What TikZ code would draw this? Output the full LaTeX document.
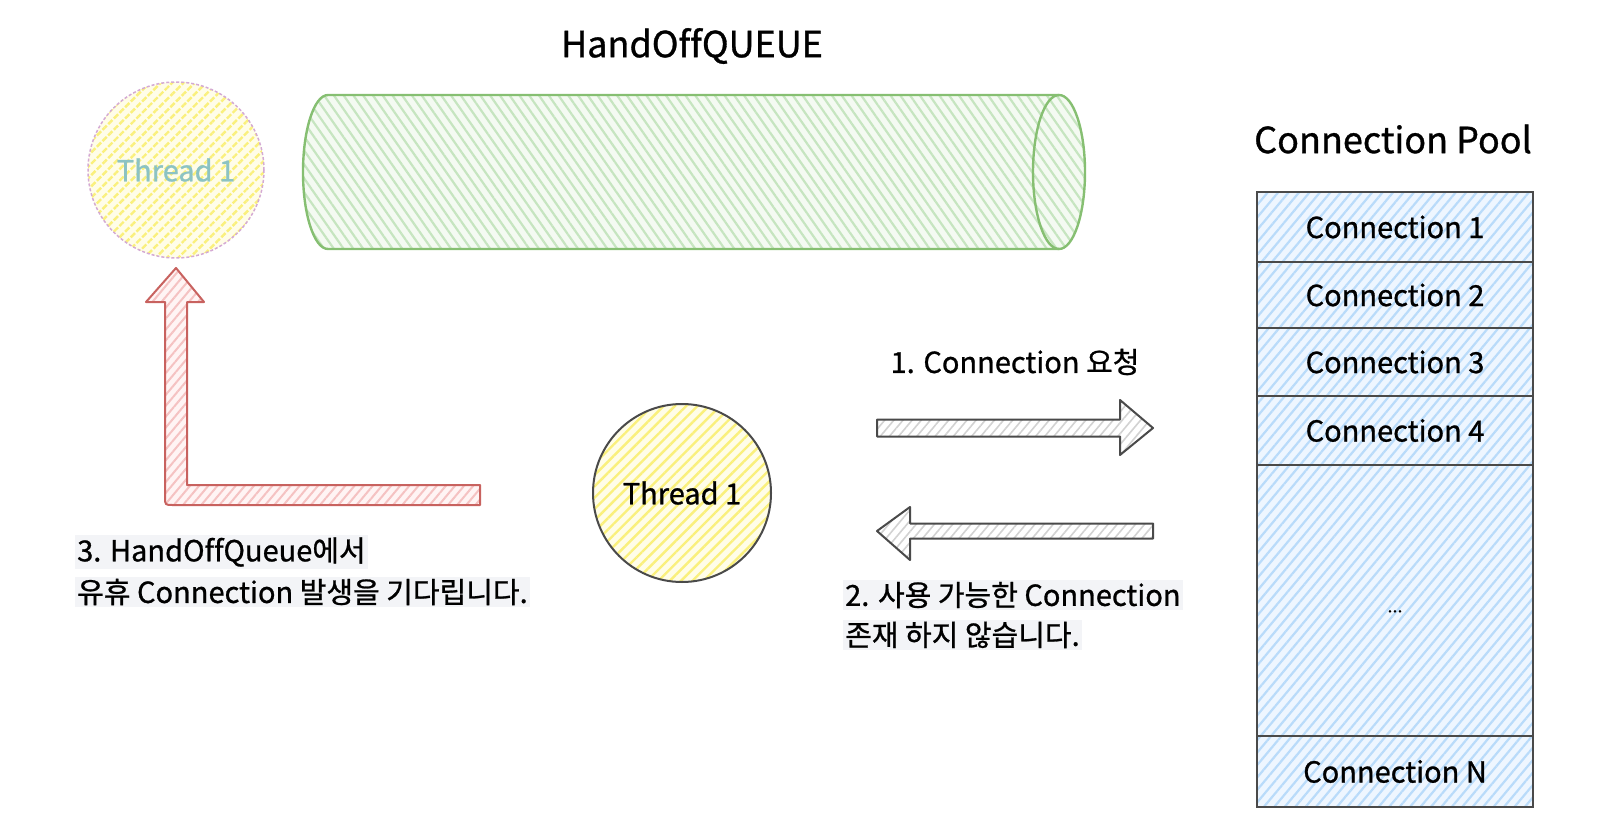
\documentclass[tikz,border=0pt]{standalone}
\usepackage{fontspec}
\setmainfont{Noto Sans CJK KR}[FakeBold=0.9, Ligatures=CommonOff]
\usetikzlibrary{patterns.meta,calc}
\definecolor{yline}{HTML}{FAF07C}
\definecolor{ybg}{HTML}{FFFDE8}
\definecolor{gline}{HTML}{C6E5C0}
\definecolor{gbg}{HTML}{F4FAF2}
\definecolor{gedge}{HTML}{86BF72}
\definecolor{bline}{HTML}{B9DBFA}
\definecolor{bbg}{HTML}{EEF6FF}
\definecolor{edge}{HTML}{4A4A4A}
\definecolor{rline}{HTML}{F5C2C2}
\definecolor{rbg}{HTML}{FFF4F4}
\definecolor{redge}{HTML}{C8625F}
\definecolor{pedge}{HTML}{D4AAD4}
\definecolor{tealtext}{HTML}{8CC3C3}
\definecolor{glines}{HTML}{D2D2D2}
\definecolor{lbl}{HTML}{F3F4F7}
\begin{document}
\begin{tikzpicture}[x=1pt,y=-1pt,
  txt/.style={font=\fontsize{29}{34}\selectfont, text=black},
  ttl/.style={font=\fontsize{36}{42}\selectfont, text=black},
  yhatch/.style={preaction={fill=ybg}, pattern={Lines[angle=45,distance=8pt,line width=2.4pt]}, pattern color=yline},
  ghatch/.style={preaction={fill=gbg}, pattern={Lines[angle=-55,distance=8pt,line width=2.2pt]}, pattern color=gline},
  bhatch/.style={preaction={fill=bbg}, pattern={Lines[angle=50,distance=8pt,line width=2.2pt]}, pattern color=bline},
  rhatch/.style={preaction={fill=rbg}, pattern={Lines[angle=50,distance=7pt,line width=2pt]}, pattern color=rline},
  khatch/.style={preaction={fill=white}, pattern={Lines[angle=50,distance=7pt,line width=1.6pt]}, pattern color=glines},
  row/.style={draw=edge, line width=2.5pt, bhatch, minimum width=276pt, inner sep=0pt, txt},
  thread/.style={circle, inner sep=0pt, yhatch, txt},
  lab/.style={txt, fill=lbl, inner sep=2pt, anchor=west},
  blockarrow/.style={draw=edge, line width=2pt, line join=round, khatch},
]
\useasboundingbox (0,0) rectangle (1598,832);

% titles
\node[ttl] (qtitle) at (692,46) {HandOffQUEUE};
\node[ttl] (ptitle) at (1393,139) {Connection Pool};

% cylinder (queue)
\coordinate (qL) at (328,172);
\coordinate (qR) at (1059,172);
\path[ghatch] (328,95) -- (1059,95) arc[x radius=26, y radius=77, start angle=-90, end angle=90] -- (328,249)
  arc[x radius=25, y radius=77, start angle=90, end angle=270] -- cycle;
\draw[gedge, line width=2.4pt, line join=round] (328,95) -- (1059,95)
  (328,249) -- (1059,249)
  (328,95) arc[x radius=25, y radius=77, start angle=-90, end angle=-270];
\draw[gedge, line width=2.4pt] (qR) ellipse[x radius=26, y radius=77];

% faded thread
\node[thread, minimum size=176pt, draw=pedge, line width=1.5pt, dash pattern=on 3pt off 2pt, text=tealtext] (t0) at (176,170) {Thread 1};

% active thread
\node[thread, minimum size=178pt, draw=edge, line width=2pt] (t1) at (682,493) {Thread 1};

% connection pool
\node[row, minimum height=70pt] (c1) at (1395,227) {Connection 1};
\node[row, minimum height=66pt] (c2) at (1395,295) {Connection 2};
\node[row, minimum height=68pt] (c3) at (1395,362) {Connection 3};
\node[row, minimum height=69pt] (c4) at (1395,430.5) {Connection 4};
\node[row, minimum height=271pt, font=\fontsize{18}{20}\selectfont] (cd) at (1395,600.5) {\raisebox{-24pt}{...}};
\node[row, minimum height=71pt] (cn) at (1395,771.5) {Connection N};

% arrow 1 (request)
\coordinate (a1s) at (877,428);
\coordinate (a1e) at (1153,428);
\draw[blockarrow] ($(a1s)+(0,-8.5)$) -- ($(a1e)+(-33,-8.5)$) -- ($(a1e)+(-33,-28)$) -- (a1e)
  -- ($(a1e)+(-33,27)$) -- ($(a1e)+(-33,8.5)$) -- ($(a1s)+(0,8.5)$) -- cycle;
\node[txt] (l1) at (1015,362) {1. Connection 요청};

% arrow 2 (reply)
\coordinate (a2s) at (1153,531);
\coordinate (a2e) at (877,531);
\draw[blockarrow] ($(a2s)+(0,-7.5)$) -- ($(a2e)+(33,-7.5)$) -- ($(a2e)+(33,-24)$) -- (a2e)
  -- ($(a2e)+(33,29)$) -- ($(a2e)+(33,7.5)$) -- ($(a2s)+(0,7.5)$) -- cycle;
\node[lab] (l2a) at (843,595) {2. 사용 가능한 Connection};
\node[lab] (l2b) at (843,635) {존재 하지 않습니다.};

% red arrow (wait in handoff queue)
\coordinate (r0) at (480,495);
\coordinate (rc) at (176,495);
\coordinate (rt) at (176,268);
\draw[draw=redge, line width=2pt, line join=round, rhatch]
  ($(r0)+(0,-10)$) -- ($(rc)+(11,-10)$) -- ($(rt)+(11,34)$) -- ($(rt)+(28,34)$) -- (rt)
  -- ($(rt)+(-30,34)$) -- ($(rt)+(-11,34)$) -- ($(rc)+(-11,2)$)
  .. controls ($(rc)+(-11,10)$) .. ($(rc)+(-3,10)$) -- ($(r0)+(0,10)$) -- cycle;
\node[lab] (l3a) at (75,552) {3. HandOffQueue에서};
\node[lab] (l3b) at (75,592) {유휴 Connection 발생을 기다립니다.};
\end{tikzpicture}
\end{document}
